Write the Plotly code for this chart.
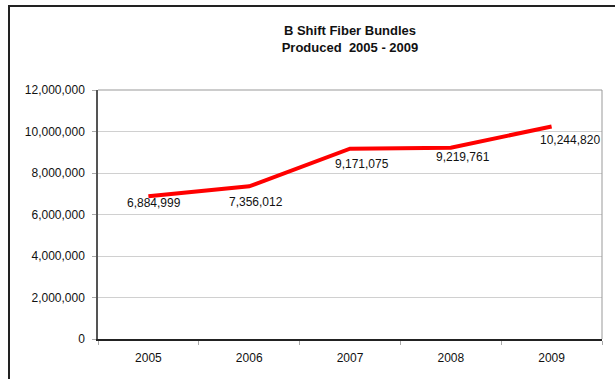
import plotly.graph_objects as go

# Annual fiber bundle output for B shift
years = ["2005", "2006", "2007", "2008", "2009"]
bundles = [6884999, 7356012, 9171075, 9219761, 10244820]
y_ticks = [0, 2000000, 4000000, 6000000, 8000000, 10000000, 12000000]

# per-label nudges (px) for the value callouts under the line
LABEL_SHIFT = [(6, -7), (7, -16), (12, -15), (12, -9), (18, -14)]

FONT = "Liberation Sans, Arial, sans-serif"

fig = go.Figure()
fig.add_trace(go.Scatter(
    x=years, y=bundles, mode="lines",
    line=dict(color="#ff0000", width=4),
    hoverinfo="skip", showlegend=False,
))

# value callouts, placed by category index on the category axis
for i, (val, (dx, dy)) in enumerate(zip(bundles, LABEL_SHIFT)):
    fig.add_annotation(
        x=i, y=val, text=f"{val:,}", showarrow=False,
        xanchor="center", yanchor="middle",
        xshift=dx, yshift=dy,
        font=dict(family=FONT, size=12, color="#111111"),
    )

# outer chart frame: only its top and left edges fall inside the page
L, R, T, B = 98, 13, 90, 40
W, H = 615 - L - R, 379 - T - B
def px_x(p):
    return (p - L) / W
def px_y(p):
    return (379 - B - p) / H

frame = dict(color="#222222", width=2)
fig.add_shape(type="line", xref="paper", yref="paper",
              x0=px_x(8), x1=px_x(615), y0=px_y(6), y1=px_y(6), line=frame)
fig.add_shape(type="line", xref="paper", yref="paper",
              x0=px_x(9), x1=px_x(9), y0=px_y(5), y1=px_y(379), line=frame)
# keep the strip right of the plotting area blank
fig.add_shape(type="rect", xref="paper", yref="paper",
              x0=px_x(604), x1=px_x(616), y0=px_y(10), y1=px_y(380),
              line=dict(width=0), fillcolor="white", layer="above")

fig.update_layout(
    width=615, height=379,
    margin=dict(l=L, r=R, t=T, b=B),
    paper_bgcolor="white", plot_bgcolor="white",
    font=dict(family=FONT, size=12, color="#111111"),
    title=dict(
        text="<b>B Shift Fiber Bundles<br>Produced  2005 - 2009</b>",
        x=0.5, xref="paper", xanchor="center",
        y=1 - 35 / 379, yanchor="top",
        font=dict(family=FONT, size=13, color="#111111"),
    ),
    xaxis=dict(
        type="category", categoryorder="array", categoryarray=years,
        range=[-0.5, len(years) - 0.5], tickson="boundaries",
        showline=True, linecolor="#222222", linewidth=1.5,
        ticks="outside", ticklen=4, tickcolor="#aaaaaa",
        ticklabelstandoff=7,
        showgrid=False, mirror=False, fixedrange=True,
        tickangle=0, tickfont=dict(size=12),
    ),
    yaxis=dict(
        range=[0, 12000000], tickvals=y_ticks,
        tickformat=",d",
        showline=True, linecolor="#555555", linewidth=1.5,
        ticks="outside", ticklen=4, tickcolor="#aaaaaa",
        ticklabelstandoff=5,
        showgrid=True, gridcolor="#d0d0d0", gridwidth=1,
        zeroline=False, fixedrange=True,
        tickfont=dict(size=12),
    ),
)

# light border along the top and right of the plotting area
fig.add_shape(type="line", xref="paper", yref="paper", x0=0, x1=1, y0=1, y1=1,
              line=dict(color="#999999", width=1))
fig.add_shape(type="line", xref="paper", yref="paper", x0=1, x1=1, y0=0, y1=1,
              line=dict(color="#999999", width=1))

fig.write_html("out.html")
